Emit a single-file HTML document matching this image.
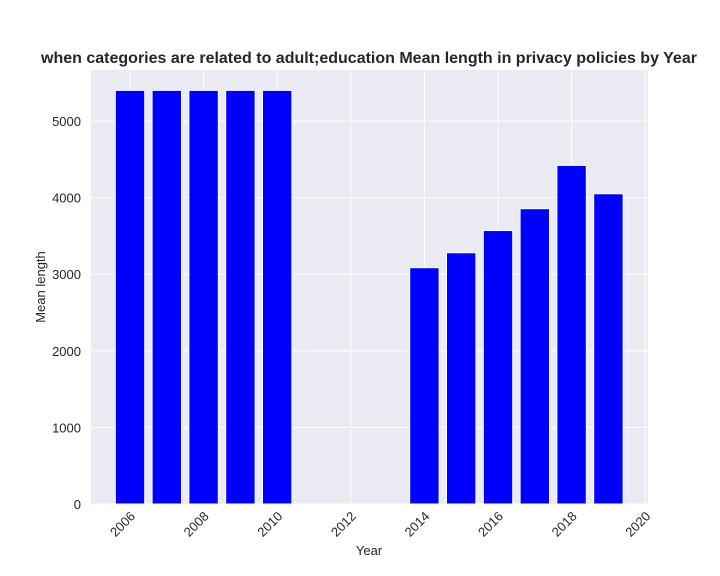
<!DOCTYPE html>
<html><head><meta charset="utf-8"><style>body{margin:0;background:#fff}svg{display:block;font-family:"Liberation Sans",sans-serif}</style></head>
<body>
<svg id="chart" width="720" height="576">
<rect x="91" y="70" width="557" height="434" fill="#eaeaf2"/>
<g id="grid"></g><g id="bars"></g><g id="ticks"></g>
<text x="369" y="63" text-anchor="middle" font-size="16" font-weight="bold" fill="#262626">when categories are related to adult;education Mean length in privacy policies by Year</text>
<text x="369" y="555" text-anchor="middle" font-size="13" fill="#262626">Year</text>
<text transform="translate(45,287) rotate(-90)" text-anchor="middle" font-size="13" fill="#262626">Mean length</text>
</svg>
<script>
const years=[2006,2007,2008,2009,2010,2014,2015,2016,2017,2018,2019];
const values=[5400,5400,5400,5400,5400,3085,3280,3570,3855,4420,4050];
const xTicks=[2006,2008,2010,2012,2014,2016,2018,2020];
const yTicks=[0,1000,2000,3000,4000,5000];
const NS="http://www.w3.org/2000/svg";
const x=v=>130+(v-2006)*36.8;
const y=v=>504-v*0.0766;
function mk(p,t,a){const e=document.createElementNS(NS,t);for(const k in a)e.setAttribute(k,a[k]);document.getElementById(p).appendChild(e);return e;}
xTicks.forEach(t=>{
 const l=mk('grid','line',{x1:x(t),x2:x(t),y1:70,y2:504,stroke:'#fff','stroke-width':1});
 
 
 const tx=mk('ticks','text',{transform:`translate(${x(t)+6},${517}) rotate(-45)`,'text-anchor':'end','font-size':13,fill:'#262626'});
 tx.textContent=t;
 
 
});
yTicks.forEach(t=>{
 const l=mk('grid','line',{x1:91,x2:648,y1:y(t),y2:y(t),stroke:'#fff','stroke-width':1});
 
 
 const tx=mk('ticks','text',{x:81,y:y(t)+5,'text-anchor':'end','font-size':13,fill:'#262626'});
 tx.textContent=t;
 
 
});
years.forEach((yr,i)=>{
 const r=mk('bars','rect',{x:x(yr)-14.7,y:y(values[i]),width:29.4,height:504-y(values[i]),fill:'#0000ff',stroke:'#fff','stroke-width':1});
 
 
});
</script>
</body></html>
